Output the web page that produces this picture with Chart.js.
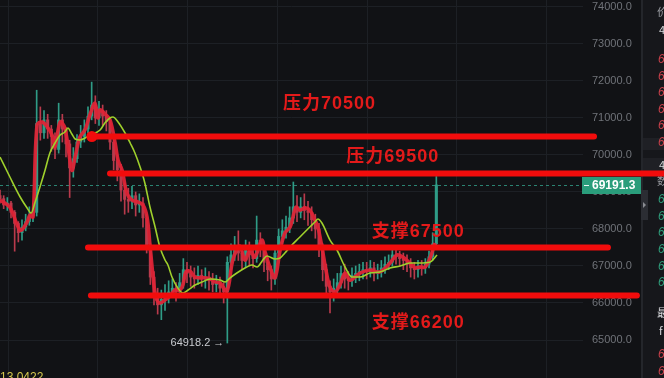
<!DOCTYPE html>
<html>
<head>
<meta charset="utf-8">
<script src="https://cdn.jsdelivr.net/npm/chart.js@4.4.1/dist/chart.umd.min.js"></script>
<style>
  html, body { margin: 0; padding: 0; background: #111215; overflow: hidden; }
  canvas { display: block; }
</style>
</head>
<body>
<canvas id="c" width="664" height="378"></canvas>
<script>
// BTC/USDT candles (one entry per bar, oldest first)
const candleOpen = [
  68900,68820,68650,68700,68450,68150,67900,68050,68200,68350,
  68450,70850,70600,70950,70700,70500,70150,70950,70700,70300,
  69650,69900,70350,70500,70700,71050,71350,71000,71200,71050,
  70900,70350,69850,69600,69050,68800,68750,68900,68650,68700,
  68300,67500,66700,66150,65950,66100,66200,66300,66400,66300,
  66550,66900,66800,66700,66650,66750,66650,66700,66600,66500,
  66550,66400,66300,67100,67300,67550,67350,67150,67450,67300,
  67200,67700,67450,67100,66900,66650,67350,67800,67950,68050,
  68300,68600,68450,68600,68500,68450,68250,68000,67500,66900,
  66450,66300,66400,66550,66800,66650,66600,66750,66800,66850,
  66900,66850,66950,66800,66850,66950,67050,67100,67300,67250,
  67200,67150,67050,66950,66900,67000,66950,67050,67250,67600
];
const candleClose = [
  68820,68650,68700,68450,68150,67900,68050,68200,68350,68450,
  70850,70600,70950,70700,70500,70150,70950,70700,70300,69650,
  69900,70350,70500,70700,71050,71350,71000,71200,71050,70900,
  70350,69850,69600,69050,68800,68750,68900,68650,68700,68300,
  67500,66700,66150,65950,66100,66200,66300,66400,66300,66550,
  66900,66800,66700,66650,66750,66650,66700,66600,66500,66550,
  66400,66300,67100,67300,67550,67350,67150,67450,67300,67200,
  67700,67450,67100,66900,66650,67350,67800,67950,68050,68300,
  68600,68450,68600,68500,68450,68250,68000,67500,66900,66450,
  66300,66400,66550,66800,66650,66600,66750,66800,66850,66900,
  66850,66950,66800,66850,66950,67050,67100,67300,67250,67200,
  67150,67050,66950,66900,67000,66950,67050,67250,67600,69191.3
];
const candleHigh = [
  69050,68900,68850,68750,68500,68200,68250,68400,68600,68700,
  71750,71300,71200,71100,70800,70600,71400,71100,70750,70400,
  70200,70550,70800,70950,71300,71970,71600,71450,71350,71200,
  71000,70500,70000,69750,69250,69100,69150,69000,68950,68850,
  68400,67600,66850,66400,66350,66500,66600,66650,66550,66800,
  67200,67100,67000,66950,67000,66900,66950,66850,66800,66750,
  66700,66550,67250,67600,67800,67950,67500,67700,67650,67550,
  68350,67900,67550,67250,67000,67500,68000,68250,68350,68600,
  69270,68900,68850,68950,68750,68600,68400,68150,67600,67050,
  66600,66650,66800,67000,67050,66850,66950,67000,67050,67100,
  67100,67150,67100,67050,67150,67250,67300,67500,67550,67400,
  67350,67300,67200,67100,67150,67150,67200,67400,67900,69420
];
const candleLow = [
  68700,68550,68500,68300,67400,67650,67700,67950,68100,68200,
  68350,70400,70450,70450,70100,69900,70050,70350,69950,68850,
  69400,69800,70200,70350,70600,70950,70850,70800,70800,70650,
  70150,69600,69300,68750,68400,68450,68550,68350,68450,68050,
  67350,66500,65950,65700,65550,65800,66000,66150,66050,66150,
  66400,66550,66450,66400,66500,66450,66400,66350,66300,66300,
  66200,66000,64918.2,66900,67150,67150,66900,66950,67000,66950,
  67100,67250,66850,66600,66350,66500,67200,67600,67750,67900,
  68150,68200,68300,68250,68100,67950,67750,67250,66600,66150,
  65730,66050,66200,66400,66400,66350,66450,66550,66600,66650,
  66650,66700,66600,66650,66700,66800,66900,67000,67050,67000,
  66900,66850,66700,66650,66700,66750,66800,66950,67150,67500
];

// hand-drawn red price trace (bar position, price)
const trendIndex = [0,2.7,5.5,7.4,8.2,9.0,10.1,11.5,13.1,14.2,15.0,16.4,17.7,19.6,20.5,21.8,23.2,24.5,25.9,26.7,
  27.3,28.6,30.0,31.4,32.2,33.3,34.6,36.0,37.6,39.0,40.1,40.9,41.7,42.5,43.6,45.0,46.4,47.7,49.1,49.9,
  50.7,51.8,53.2,54.5,55.9,57.3,58.6,60.0,61.9,63.5,65.4,66.8,68.2,69.5,71.4,72.3,73.6,75.0,76.4,77.7,
  79.1,79.9,80.7,81.8,83.2,84.5,85.9,86.7,87.8,88.9,90.0,91.4,92.7,94.1,95.4,96.8,98.2,100.9,103.6,106.4,
  108.3,109.9,111.8,113.2,114.5,115.9,117.3,118.6];
const trendValue = [68780,68590,67970,68190,68380,68320,70810,70890,70730,70540,70220,70890,70730,69590,69950,70490,70680,71080,71400,71000,
  71220,71110,70950,70320,69860,69590,68970,68780,68730,68650,68320,67570,66760,66160,66000,66080,66190,66350,66350,66490,
  66840,66860,66700,66680,66680,66650,66570,66540,66320,67160,67540,67160,67430,67240,67700,67380,66970,66680,67430,67890,
  68050,68320,68590,68510,68570,68510,68240,68050,67510,66890,66430,66300,66490,66810,66620,66700,66810,66890,66840,67080,
  67300,67240,67080,66950,66970,66970,67220,67620];

// moving average (bar position, price)
const maIndex = [0,2.7,5.5,7.4,8.5,9.5,10.9,12.3,13.6,15.0,16.4,17.7,18.5,19.6,20.5,21.8,23.2,24.5,27.3,28.6,
  30.0,30.8,32.2,34.1,35.5,36.8,38.2,39.5,40.9,42.3,43.6,45.0,45.8,46.9,48.5,49.9,51.3,53.2,55.1,57.3,
  60.0,61.4,62.7,64.6,66.8,68.7,70.1,71.7,72.8,75.0,76.4,77.7,79.1,81.8,84.5,85.9,86.7,87.8,90.0,91.9,
  94.1,96.0,98.2,100.9,103.6,106.4,109.1,111.8,114.5,117.3,119.2];
const maValue = [69946,69405,68865,68567,68432,68702,69135,69594,70054,70324,70540,70621,70730,70567,70432,70405,70459,70540,70675,70865,
  71000,71027,70892,70594,70324,70054,69675,69243,68594,68054,67513,67162,67027,66702,66405,66270,66351,66486,66567,66648,
  66621,66567,66675,66810,66945,67027,66973,67162,67270,67189,67216,67351,67513,67784,68054,68189,68270,68162,67702,67432,
  66973,66702,66702,66810,66838,66945,67000,67081,67081,67108,67297];

// support / resistance levels
const levelValues = [70500, 69500, 67500, 66200];
const levelNames  = ['压力70500', '压力69500', '支撑67500', '支撑66200'];

// price axis ticks
const yTickValues = [65000, 66000, 67000, 68000, 69000, 70000, 71000, 72000, 73000, 74000];
// time grid positions (bar units)
const xGridValues = [2.3, 26.7, 51.2, 75.6, 100.1, 124.5, 149.0];

const UP = '#2f9c87', DOWN = '#b93a4c';
const candleColors = candleClose.map((c, i) => c >= candleOpen[i] ? UP : DOWN);
const wickData = candleLow.map((l, i) => ({ x: i, y: [l, candleHigh[i]] }));
const bodyData = candleOpen.map((o, i) => ({ x: i, y: [o, candleClose[i]] }));
const trendData = trendIndex.map((x, i) => ({ x, y: trendValue[i] }));
const maData = maIndex.map((x, i) => ({ x, y: maValue[i] }));

// level line extents (bar units) and label placement
const levelStyle = [
  { from: 24.5, to: 162.0, dot: true,  labelX: 77.2,  dy: -32 },
  { from: 30.0, to: 181.5, dot: false, labelX: 94.4,  dy: -16 },
  { from: 24.0, to: 165.8, dot: false, labelX: 101.4, dy: -15 },
  { from: 24.8, to: 173.7, dot: false, labelX: 101.4, dy: 27 }
];

const overlay = {
  id: 'overlay',
  beforeDatasetsDraw(chart) {
    const { ctx, chartArea, scales: { y } } = chart;
    const last = candleClose[candleClose.length - 1];
    const py = Math.round(y.getPixelForValue(last)) + 0.5;
    ctx.save();
    ctx.strokeStyle = 'rgba(50,160,138,0.8)';
    ctx.lineWidth = 1;
    ctx.setLineDash([3, 3]);
    ctx.beginPath();
    ctx.moveTo(chartArea.left, py);
    ctx.lineTo(chartArea.right, py);
    ctx.stroke();
    ctx.restore();
  },
  afterDraw(chart) {
    const { ctx, scales: { x, y } } = chart;
    const W = chart.width, H = chart.height;
    ctx.save();

    // side panel (order book strip)
    ctx.fillStyle = '#16171b';
    ctx.fillRect(643, 0, W - 643, H);
    ctx.fillStyle = '#24262b';
    ctx.fillRect(641, 0, 2, H);
    ctx.fillStyle = '#1f2025';
    ctx.fillRect(643, 138, W - 643, 12);
    ctx.fillRect(643, 158, W - 643, 16);
    ctx.font = 'italic 12px "Liberation Sans", Arial, sans-serif';
    ctx.textBaseline = 'middle';
    ctx.textAlign = 'left';
    [60, 77, 93, 110, 126, 143, 355, 372].forEach(v => { ctx.fillStyle = '#c8404a'; ctx.fillText('69', 658, v); });
    [200, 217, 233, 250, 267, 283].forEach(v => { ctx.fillStyle = '#2f9c7a'; ctx.fillText('69', 658, v); });
    ctx.fillStyle = '#9a9ca2';
    ctx.font = '11px "Noto Sans CJK SC", sans-serif';
    ctx.fillText('价', 657, 12);
    ctx.fillText('数', 657, 181);
    ctx.fillStyle = '#d8d9dc';
    ctx.fillText('4', 659, 30);
    ctx.fillText('4', 659, 165);
    ctx.fillText('最', 657, 313);
    ctx.fillText('f', 659, 331);
    // collapse tab
    ctx.fillStyle = '#2b2d33';
    ctx.fillRect(641, 190, 7, 30);
    ctx.fillStyle = '#8a8c92';
    ctx.beginPath();
    ctx.moveTo(643, 202); ctx.lineTo(646, 205); ctx.lineTo(643, 208); ctx.closePath(); ctx.fill();

    // last price tag
    const last = candleClose[candleClose.length - 1];
    const py = y.getPixelForValue(last);
    ctx.fillStyle = '#2a9d7b';
    ctx.fillRect(582, Math.round(py) - 8, 59, 17);
    ctx.strokeStyle = '#e8f5f0';
    ctx.lineWidth = 1;
    ctx.beginPath();
    ctx.moveTo(584, Math.round(py) + 0.5); ctx.lineTo(589, Math.round(py) + 0.5); ctx.stroke();
    ctx.fillStyle = '#ffffff';
    ctx.font = 'bold 12px "Liberation Sans", Arial, sans-serif';
    ctx.textAlign = 'left';
    ctx.textBaseline = 'middle';
    ctx.fillText(last.toFixed(1), 592, py + 0.5);

    // lowest price marker
    let lowIdx = 0;
    candleLow.forEach((v, i) => { if (v < candleLow[lowIdx]) lowIdx = i; });
    const lx = x.getPixelForValue(lowIdx), ly = y.getPixelForValue(candleLow[lowIdx]);
    ctx.fillStyle = '#c9cbd0';
    ctx.font = '11px "Liberation Sans", Arial, sans-serif';
    ctx.textAlign = 'right';
    ctx.fillText(candleLow[lowIdx].toFixed(1) + ' →', lx - 3, ly);

    // support / resistance lines
    ctx.strokeStyle = '#f20c0c';
    ctx.fillStyle = '#f20c0c';
    ctx.lineWidth = 6;
    ctx.lineCap = 'round';
    levelValues.forEach((v, i) => {
      const s = levelStyle[i];
      const ly2 = y.getPixelForValue(v);
      const x0 = x.getPixelForValue(s.from), x1 = x.getPixelForValue(s.to);
      ctx.beginPath();
      ctx.moveTo(x0, ly2); ctx.lineTo(x1, ly2); ctx.stroke();
      if (s.dot) { ctx.beginPath(); ctx.arc(x0 + 2, ly2, 5.5, 0, Math.PI * 2); ctx.fill(); }
    });
    ctx.fillStyle = '#e31a1a';
    ctx.font = 'bold 18px "Liberation Sans", "Noto Sans CJK SC", sans-serif';
    ctx.letterSpacing = '1px';
    ctx.textAlign = 'left';
    ctx.textBaseline = 'middle';
    levelValues.forEach((v, i) => {
      const s = levelStyle[i];
      ctx.fillText(levelNames[i], x.getPixelForValue(s.labelX), y.getPixelForValue(v) + s.dy);
    });
    ctx.letterSpacing = '0px';

    // lower indicator readout
    ctx.fillStyle = '#d6c84e';
    ctx.font = '12px "Liberation Sans", Arial, sans-serif';
    ctx.textAlign = 'left';
    ctx.textBaseline = 'alphabetic';
    ctx.fillText('13.0422', 0, 381);
    ctx.restore();
  }
};

new Chart(document.getElementById('c'), {
  data: {
    datasets: [
      { type: 'bar', data: wickData, backgroundColor: candleColors, barThickness: 1, grouped: false, order: 4 },
      { type: 'bar', data: bodyData, backgroundColor: candleColors, barThickness: 2.4, minBarLength: 1, grouped: false, order: 3 },
      { type: 'line', data: trendData, borderColor: 'rgba(222,36,54,0.95)', borderWidth: 3.6, pointRadius: 0, tension: 0.35, order: 2 },
      { type: 'line', data: maData, borderColor: '#9fd02c', borderWidth: 1.6, pointRadius: 0, cubicInterpolationMode: 'monotone', order: 1 }
    ]
  },
  options: {
    responsive: false,
    devicePixelRatio: 1,
    animation: false,
    layout: { padding: { left: 0, right: 31, top: 0, bottom: 0 } },
    plugins: { legend: { display: false }, tooltip: { enabled: false } },
    scales: {
      x: {
        type: 'linear', min: 0, max: 159, offset: false,
        ticks: { display: false },
        grid: { color: '#1d2025', drawTicks: false, offset: false },
        border: { display: false },
        afterBuildTicks: s => { s.ticks = xGridValues.map(v => ({ value: v })); },
        afterFit: s => { s.height = 0; s.paddingLeft = 0; s.paddingRight = 0; s.paddingTop = 0; s.paddingBottom = 0; }
      },
      y: {
        position: 'right', min: 63973, max: 74189,
        afterBuildTicks: s => { s.ticks = yTickValues.map(v => ({ value: v })); },
        afterFit: s => { s.width = 50; s.paddingTop = 0; s.paddingBottom = 0; s.paddingLeft = 0; s.paddingRight = 0; },
        ticks: {
          color: '#707379', padding: 9,
          font: { size: 11, family: '"Liberation Sans", Arial, sans-serif' },
          callback: v => Number(v).toFixed(1)
        },
        grid: { color: '#1d2025', drawTicks: false },
        border: { display: false }
      }
    }
  },
  plugins: [overlay]
});
</script>
</body>
</html>
